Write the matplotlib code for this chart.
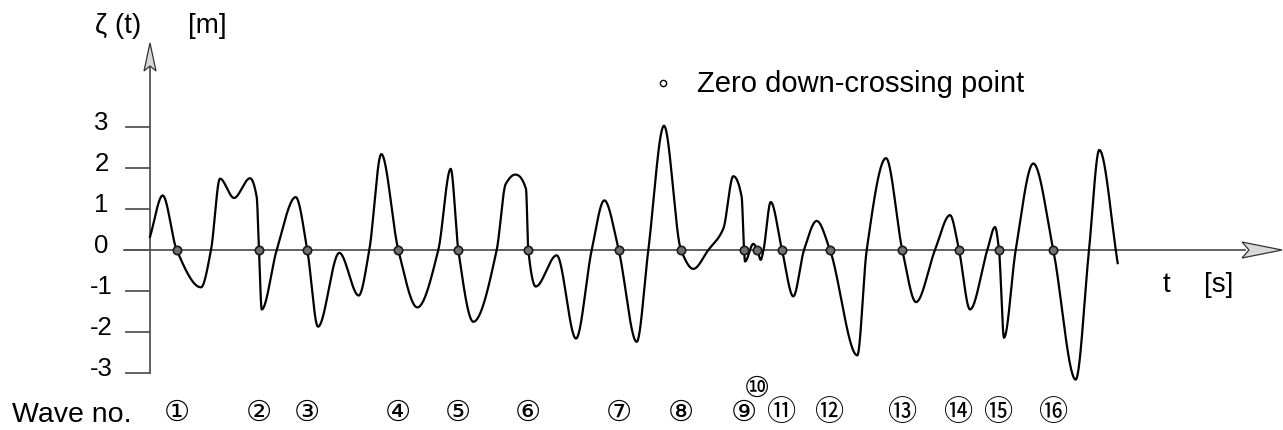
import numpy as np
import matplotlib
matplotlib.use('Agg')
import matplotlib.pyplot as plt
from matplotlib.patches import Polygon

plt.rcParams['font.family'] = ['Liberation Sans', 'DejaVu Sans', 'Noto Sans CJK JP']

# surface elevation record: time [s] and elevation [m] at the turning points / crossings
t_knots = [0.0, 1.27, 2.67, 5.1, 6.1, 7.0, 8.4, 10.0, 10.67, 10.9, 11.17, 12.67, 14.57,
           15.73, 16.8, 18.93, 20.87, 21.93, 23.13, 24.83, 26.73, 28.83, 30.07, 30.83,
           32.33, 34.67, 35.57, 36.53, 37.6, 37.83, 38.57, 40.67, 42.6, 44.17, 45.43,
           46.87, 48.67, 49.83, 51.4, 53.1, 54.33, 55.83, 57.33, 58.33, 59.17, 59.4,
           59.5, 60.33, 60.73, 61.07, 61.35, 62.07, 63.2, 64.33, 65.4, 66.67, 68.0,
           70.73, 71.67, 73.6, 75.23, 76.6, 78.5, 80.0, 80.9, 82.0, 83.73, 84.5, 84.9,
           85.4, 86.57, 88.33, 90.33, 92.57, 93.9, 94.93, 96.77]
zeta_knots = [0.32, 1.33, 0.0, -0.91, 0.0, 1.74, 1.27, 1.75, 1.29, 0.0, -1.45, 0.0, 1.29,
              0.0, -1.87, -0.07, -1.11, 0.0, 2.34, 0.0, -1.40, 0.0, 1.98, 0.0,
              -1.75, 0.0, 1.61, 1.84, 1.49, 0.0, -0.89, -0.13, -2.16, 0.0, 1.21,
              0.0, -2.24, 0.0, 3.03, 0.0, -0.46, 0.0, 0.52, 1.80, 1.29, 0.0,
              -0.28, 0.15, 0.0, -0.24, 0.0, 1.17, 0.0, -1.13, 0.0, 0.71, 0.0,
              -2.57, 0.0, 2.24, 0.0, -1.27, 0.0, 0.85, 0.0, -1.45, 0.0, 0.56, 0.0,
              -2.14, 0.0, 2.11, 0.0, -3.16, 0.0, 2.44, -0.32]

# zero down-crossing times and wave numbers
down_cross = [2.67, 10.9, 15.73, 24.83, 30.83, 37.83, 46.87, 53.1, 59.4, 60.73,
              63.2, 68.0, 75.23, 80.9, 84.9, 90.33]
wave_no = ['①', '②', '③', '④', '⑤', '⑥', '⑦', '⑧', '⑨', '⑩',
           '⑪', '⑫', '⑬', '⑭', '⑮', '⑯']

y_ticks = [3, 2, 1, 0, -1, -2, -3]
y_ticklabels = ['3', '2', '1', '0', '-1', '-2', '-3']


def pchip(x, y, xs):
    # monotone cubic hermite through the knots
    x = np.asarray(x, float)
    y = np.asarray(y, float)
    h = np.diff(x)
    delta = np.diff(y) / h
    d = np.zeros_like(y)
    for k in range(1, len(x) - 1):
        if delta[k - 1] * delta[k] > 0:
            w1 = 2 * h[k] + h[k - 1]
            w2 = h[k] + 2 * h[k - 1]
            d[k] = (w1 + w2) / (w1 / delta[k - 1] + w2 / delta[k])
    d[0] = delta[0]
    d[-1] = delta[-1]
    i = np.clip(np.searchsorted(x, xs) - 1, 0, len(x) - 2)
    s = (xs - x[i]) / h[i]
    h00 = 2 * s**3 - 3 * s**2 + 1
    h10 = s**3 - 2 * s**2 + s
    h01 = -2 * s**3 + 3 * s**2
    h11 = s**3 - s**2
    return h00 * y[i] + h10 * h[i] * d[i] + h01 * y[i + 1] + h11 * h[i] * d[i + 1]


fig = plt.figure(figsize=(12.83, 4.30), dpi=100)
ax = fig.add_axes([0, 0, 1, 1])
ax.set_xlim(-15.0, 113.3)
ax.set_ylim(-4.390, 6.098)
ax.axis('off')

# size of one pixel in data units
px_x = 128.3 / 1283
px_y = 10.488 / 430

axis_col = '#555555'

# axes
ax.plot([-2.6, 109.5], [0, 0], color=axis_col, lw=1.3, zorder=1)
ax.plot([0, 0], [-3, 4.5], color=axis_col, lw=1.3, zorder=1)
for v in y_ticks:
    ax.plot([-2.4, 0], [v, v], color=axis_col, lw=1.3, zorder=1)
for v, lab in zip(y_ticks, y_ticklabels):
    ax.text(-4.85, v + 0.1, lab, fontsize=18.5, ha='center', va='center')

# arrow heads
x_tip = 113.2
ax.add_patch(Polygon([[x_tip, 0], [x_tip - 40 * px_x, 8 * px_y],
                      [x_tip - 33 * px_x, 0], [x_tip - 40 * px_x, -8 * px_y]],
                     closed=True, fc='#d9d9d9', ec='#333333', lw=0.9, zorder=3))
y_tip = 5.05
ax.add_patch(Polygon([[0, y_tip], [-6 * px_x, y_tip - 28 * px_y],
                      [0, y_tip - 23 * px_y], [6 * px_x, y_tip - 28 * px_y]],
                     closed=True, fc='#d9d9d9', ec='#333333', lw=0.9, zorder=3))

# elevation record
tt = np.linspace(t_knots[0], t_knots[-1], 4000)
ax.plot(tt, pchip(t_knots, zeta_knots, tt), color='black', lw=1.6, zorder=2)

# zero down-crossing points
ax.plot(down_cross, np.zeros(len(down_cross)), 'o', ms=6, mfc='#707070',
        mec='#1a1a1a', mew=1.2, zorder=4)

# labels
ax.text(-5.5, 5.29, 'ζ (t)', fontsize=20, ha='left', va='baseline')
ax.text(3.8, 5.29, '[m]', fontsize=20, ha='left', va='baseline')
ax.text(101.3, -1.02, 't', fontsize=20, ha='left', va='baseline')
ax.text(105.4, -1.02, '[s]', fontsize=20, ha='left', va='baseline')

ax.plot([51.3], [4.07], 'o', ms=4.5, mfc='white', mec='black', mew=1.0)
ax.text(54.7, 3.86, 'Zero down-crossing point', fontsize=21, ha='left', va='baseline')

ax.text(-13.8, -4.19, 'Wave no.', fontsize=20.5, ha='left', va='baseline')
for tc, lab in zip(down_cross, wave_no):
    yl = -3.39 if lab == '⑩' else -3.98
    ax.text(tc, yl, lab, fontsize=21, ha='center', va='center')

fig.savefig('out.png', dpi=100)
